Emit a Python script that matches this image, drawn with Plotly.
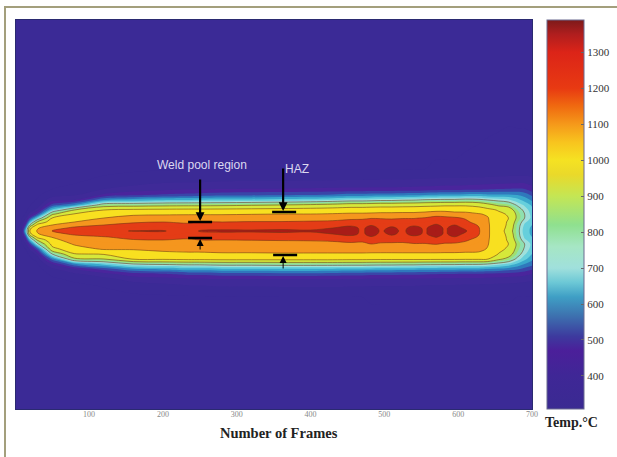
import numpy as np
import plotly.graph_objects as go

# Row position in the field (pixels-like units above the weld centre line)
rows = [211, 62, 50, 42, 36, 31, 26, 21, 17, 13, 9, 6, 3, 0, -3, -6, -9, -13, -18, -23, -28, -33, -38, -43, -48, -54, -66, -178]
frames = [1, 8, 14, 20, 30, 50, 80, 120, 160, 200, 235, 250, 280, 320, 360, 400, 430, 455, 470, 482, 495, 510, 525, 540, 555, 570, 582, 595, 610, 628, 640, 655, 668, 680, 690, 700]

# One temperature profile per frame, top of the field to the bottom (rows order)
temps_by_frame = [
 [365,365,365,365,365,365,366,368,370,372,375,378,382,385,382,378,375,372,370,368,366,365,365,365,365,365,365,365],
 [365,365,365,365,366,368,370,374,380,390,400,410,420,430,420,410,400,390,380,374,370,368,366,365,365,365,365,365],
 [365,365,365,366,368,372,378,388,402,440,500,560,640,700,640,560,500,440,400,385,376,370,366,365,365,365,365,365],
 [365,365,366,370,376,385,398,420,470,560,700,820,980,1010,980,820,700,560,460,410,390,378,370,366,365,365,365,365],
 [365,368,372,380,392,405,420,470,560,720,910,1030,1090,1110,1090,1030,910,780,580,470,420,395,382,372,366,365,365,365],
 [365,380,390,400,430,480,570,720,880,1000,1060,1100,1170,1205,1170,1105,1075,1030,970,800,620,500,440,410,392,380,368,365],
 [365,382,395,410,445,500,650,900,1005,1050,1100,1170,1215,1250,1215,1170,1140,1110,1060,995,880,640,500,440,410,392,372,365],
 [365,388,410,450,510,650,850,1000,1050,1100,1150,1200,1240,1290,1240,1195,1170,1135,1110,1010,900,720,570,480,435,405,380,365],
 [365,392,425,470,540,675,860,1020,1085,1130,1190,1225,1260,1302,1262,1225,1195,1150,1105,1070,1010,800,640,530,470,430,388,365],
 [368,395,438,485,560,695,870,1025,1088,1140,1200,1240,1272,1306,1274,1238,1200,1158,1118,1080,1015,815,660,545,482,442,392,368],
 [368,396,442,492,570,700,875,1028,1090,1145,1190,1215,1240,1260,1240,1215,1190,1165,1125,1085,1025,825,680,565,495,452,395,368],
 [368,396,442,495,575,705,875,1028,1090,1150,1205,1240,1275,1306,1276,1240,1200,1165,1125,1085,1025,825,680,565,495,452,395,368],
 [370,398,448,500,585,710,880,1030,1090,1150,1200,1245,1285,1310,1285,1245,1200,1170,1130,1090,1030,835,690,575,500,458,398,370],
 [370,398,450,502,590,715,890,1035,1095,1155,1205,1250,1285,1308,1285,1250,1202,1165,1130,1090,1030,835,690,575,500,458,398,370],
 [370,398,450,502,595,725,900,1040,1100,1160,1205,1255,1288,1312,1288,1252,1205,1170,1135,1092,1030,840,695,580,502,460,400,370],
 [370,398,452,505,600,735,915,1045,1100,1165,1210,1260,1288,1306,1288,1258,1208,1170,1132,1092,1030,840,695,580,502,460,400,370],
 [370,398,454,508,610,750,930,1050,1105,1170,1215,1262,1300,1318,1300,1262,1212,1178,1132,1092,1030,840,690,575,502,460,400,370],
 [370,398,455,510,622,765,950,1055,1112,1185,1225,1285,1325,1345,1322,1280,1225,1185,1132,1092,1025,838,685,570,500,458,400,370],
 [370,398,455,510,622,765,950,1055,1112,1190,1220,1255,1285,1280,1285,1255,1220,1180,1132,1092,1025,838,685,570,500,458,400,370],
 [370,398,456,512,628,772,955,1058,1115,1195,1240,1295,1330,1350,1330,1295,1235,1200,1132,1090,1022,835,682,565,498,456,402,370],
 [370,398,458,512,632,782,960,1060,1120,1195,1225,1265,1285,1290,1285,1262,1225,1190,1130,1090,1020,832,680,562,498,456,402,370],
 [370,398,458,512,632,782,960,1060,1120,1190,1230,1285,1310,1325,1310,1285,1230,1185,1130,1090,1020,832,680,562,498,456,402,370],
 [370,398,458,514,636,792,965,1062,1122,1195,1230,1265,1285,1285,1285,1262,1225,1185,1132,1090,1020,828,675,558,496,454,402,370],
 [370,400,460,516,640,797,968,1062,1122,1195,1235,1290,1322,1340,1322,1285,1235,1195,1132,1090,1020,828,675,558,496,454,402,370],
 [370,400,462,520,650,810,975,1065,1135,1205,1250,1275,1290,1288,1290,1272,1230,1195,1132,1090,1020,822,670,555,495,452,402,370],
 [370,402,464,522,655,815,980,1068,1165,1225,1270,1310,1340,1355,1340,1305,1265,1205,1132,1090,1018,820,668,552,492,450,402,370],
 [370,402,466,525,660,820,985,1070,1160,1220,1255,1280,1288,1285,1288,1278,1240,1190,1132,1088,1018,818,665,550,490,450,402,370],
 [370,402,466,525,660,820,985,1070,1130,1215,1260,1300,1330,1345,1330,1298,1250,1185,1132,1088,1018,818,665,550,490,450,402,370],
 [370,404,468,530,670,830,985,1070,1125,1190,1220,1255,1285,1310,1285,1250,1215,1170,1128,1085,1015,812,660,545,488,446,402,370],
 [370,406,470,535,670,820,970,1050,1105,1130,1160,1190,1205,1210,1205,1190,1160,1140,1120,1085,1015,812,660,545,488,446,402,370],
 [370,408,472,540,660,800,930,1030,1090,1105,1108,1110,1110,1110,1110,1110,1108,1105,1095,1070,1005,800,650,540,485,444,402,370],
 [370,410,475,548,660,780,880,990,1020,1040,1045,1048,1050,1050,1050,1048,1045,1040,1025,995,920,770,640,535,482,442,402,370],
 [370,412,478,552,660,760,860,960,990,1002,990,985,975,960,975,985,990,1002,985,950,870,740,625,530,480,440,402,370],
 [368,412,480,555,650,720,790,850,880,885,860,840,835,830,835,840,860,885,870,840,780,690,610,525,476,436,400,368],
 [368,412,480,552,630,680,740,780,800,800,760,740,725,720,725,740,760,800,790,760,715,650,585,515,472,432,400,368],
 [368,410,472,518,590,640,690,720,730,735,720,700,690,690,690,700,720,735,725,700,665,620,560,500,464,428,398,368],
]

tick_vals = [100, 200, 300, 400, 500, 600, 700]
bar_ticks = [400, 500, 600, 700, 800, 900, 1000, 1100, 1200, 1300]
band_edges = [400, 450, 500, 550, 600, 650, 700, 750, 800, 850, 900, 950, 1000, 1050, 1100, 1150, 1200, 1250, 1300, 1350, 1400]
band_colors = ["#3b2a96", "#3f2a98", "#4a259c", "#3a45a8", "#2f78bc", "#3aa8cc", "#66cfdc", "#9fe0dc", "#8fe0b0",
               "#9fe070", "#9fe070", "#d6e83a", "#d6e83a", "#f8e020", "#f8e020", "#f5961e", "#f5961e", "#e43c16", "#e43c16", "#a81c18", "#a81c18"]
bar_stops = [(308, "#3a2a92"), (400, "#3f2796"), (470, "#4b1f9a"), (510, "#3d3a9e"), (570, "#3d74b0"), (620, "#3f9fc5"),
             (660, "#6cc8d6"), (700, "#a0e0dc"), (760, "#a6e6c4"), (820, "#8fe08f"), (900, "#c4e654"), (960, "#ead92a"),
             (1000, "#f5e222"), (1050, "#f8c41e"), (1100, "#f5991a"), (1150, "#f06a10"), (1200, "#e83a12"),
             (1300, "#dc2418"), (1350, "#b01e1e"), (1390, "#7d1a1a")]
bar_min, bar_max = 308, 1390

z = np.array(temps_by_frame).T

smooth_scale = [[(v - bar_min) / (bar_max - bar_min), c] for v, c in bar_stops]

# stepped scale for the filled bands
start, size, end = band_edges[0], 50, band_edges[-1]
n = len(band_colors)
lo, hi = start - size, end
step_scale = []
for i, c in enumerate(band_colors):
    step_scale.append([i / n, c])
    step_scale.append([(i + 1) / n, c])

fig = go.Figure()
fig.add_trace(go.Heatmap(
    x=frames, y=rows, z=z, zmin=bar_min, zmax=bar_max, colorscale=smooth_scale, hoverinfo="skip",
    colorbar=dict(x=(547 - 16) / 516, xanchor="left", xpad=0, thickness=37, thicknessmode="pixels",
                  y=0, yanchor="bottom", ypad=0, len=1, lenmode="fraction",
                  tickvals=bar_ticks, ticks="inside", ticklen=3, tickcolor="#666",
                  tickfont=dict(family="Liberation Serif", size=11, color="#333"),
                  outlinecolor="#6a6a90", outlinewidth=1),
))
fig.add_trace(go.Contour(
    x=frames, y=rows, z=z, zmin=lo, zmax=hi, colorscale=step_scale, showscale=False, autocontour=False,
    contours=dict(start=start, end=end, size=size, coloring="fill", showlines=False), line=dict(width=0),
))
fig.add_trace(go.Contour(
    x=frames, y=rows, z=z, showscale=False, autocontour=False,
    contours=dict(start=800, end=1300, size=100, coloring="none"),
    line=dict(color="rgba(110,50,20,0.7)", width=0.8),
))

def fx(px):
    return (px - 15.2) / 0.738
def fy(py):
    return 231 - py

# callouts
for (x0, x1, py) in [(188, 212, 222), (188, 212, 238), (272, 296, 212), (273, 297, 255)]:
    fig.add_shape(type="line", x0=fx(x0), x1=fx(x1), y0=fy(py), y1=fy(py), line=dict(color="black", width=2.5))
for (px, y0, y1, w) in [(200, 178, 221, 2.2), (283, 167, 211, 2.2), (200, 251, 239, 1), (283, 270, 256, 1)]:
    fig.add_annotation(x=fx(px), y=fy(y1), ax=fx(px), ay=fy(y0), xref="x", yref="y", axref="x", ayref="y", text="",
                       showarrow=True, arrowhead=2, arrowsize=0.8 if w > 1 else 1.4, arrowwidth=w, arrowcolor="black")
label_font = dict(family="Liberation Sans", size=12, color="#dcd8f0")
fig.add_annotation(x=fx(202), y=fy(165), text="Weld pool region", showarrow=False, font=label_font)
fig.add_annotation(x=fx(297), y=fy(169), text="HAZ", showarrow=False, font=label_font)
fig.add_annotation(xref="paper", yref="paper", x=(571 - 16) / 516, y=(457 - 422 - 48) / 389, xanchor="center", yanchor="middle",
                   text="<b>Temp.°C</b>", showarrow=False, font=dict(family="Liberation Serif", size=14, color="#222"))
fig.add_annotation(xref="paper", yref="paper", x=(279 - 16) / 516, y=(457 - 433 - 48) / 389, xanchor="center", yanchor="middle",
                   text="<b>Number of Frames</b>", showarrow=False, font=dict(family="Liberation Serif", size=14.5, color="#222"))

# page frame
fig.add_shape(type="rect", xref="paper", yref="paper", layer="below",
              x0=(4 - 16) / 516, x1=(6 - 16) / 516, y0=(0 - 48) / 389, y1=(451 - 48) / 389,
              fillcolor="#a39f7c", line_width=0)
fig.add_shape(type="rect", xref="paper", yref="paper", layer="below",
              x0=(4 - 16) / 516, x1=(617 - 16) / 516, y0=(449 - 48) / 389, y1=(451 - 48) / 389,
              fillcolor="#a39f7c", line_width=0)

fig.update_layout(
    width=617, height=457, margin=dict(l=16, r=85, t=20, b=48, autoexpand=False),
    paper_bgcolor="white", plot_bgcolor="#3b2a96", showlegend=False,
    xaxis=dict(range=[1, 700], tickvals=tick_vals, ticks="", ticklabelstandoff=-3, showgrid=False, zeroline=False,
               showline=True, linecolor="#2a2a70", linewidth=1, mirror=True,
               tickfont=dict(family="Liberation Serif", size=8, color="#888")),
    yaxis=dict(range=[-178, 211], showticklabels=False, ticks="", showgrid=False, zeroline=False,
               showline=True, linecolor="#2a2a70", linewidth=1, mirror=True),
)
fig.write_html("out.html", config=dict(displayModeBar=False), post_script="document.body.style.margin='0';")
